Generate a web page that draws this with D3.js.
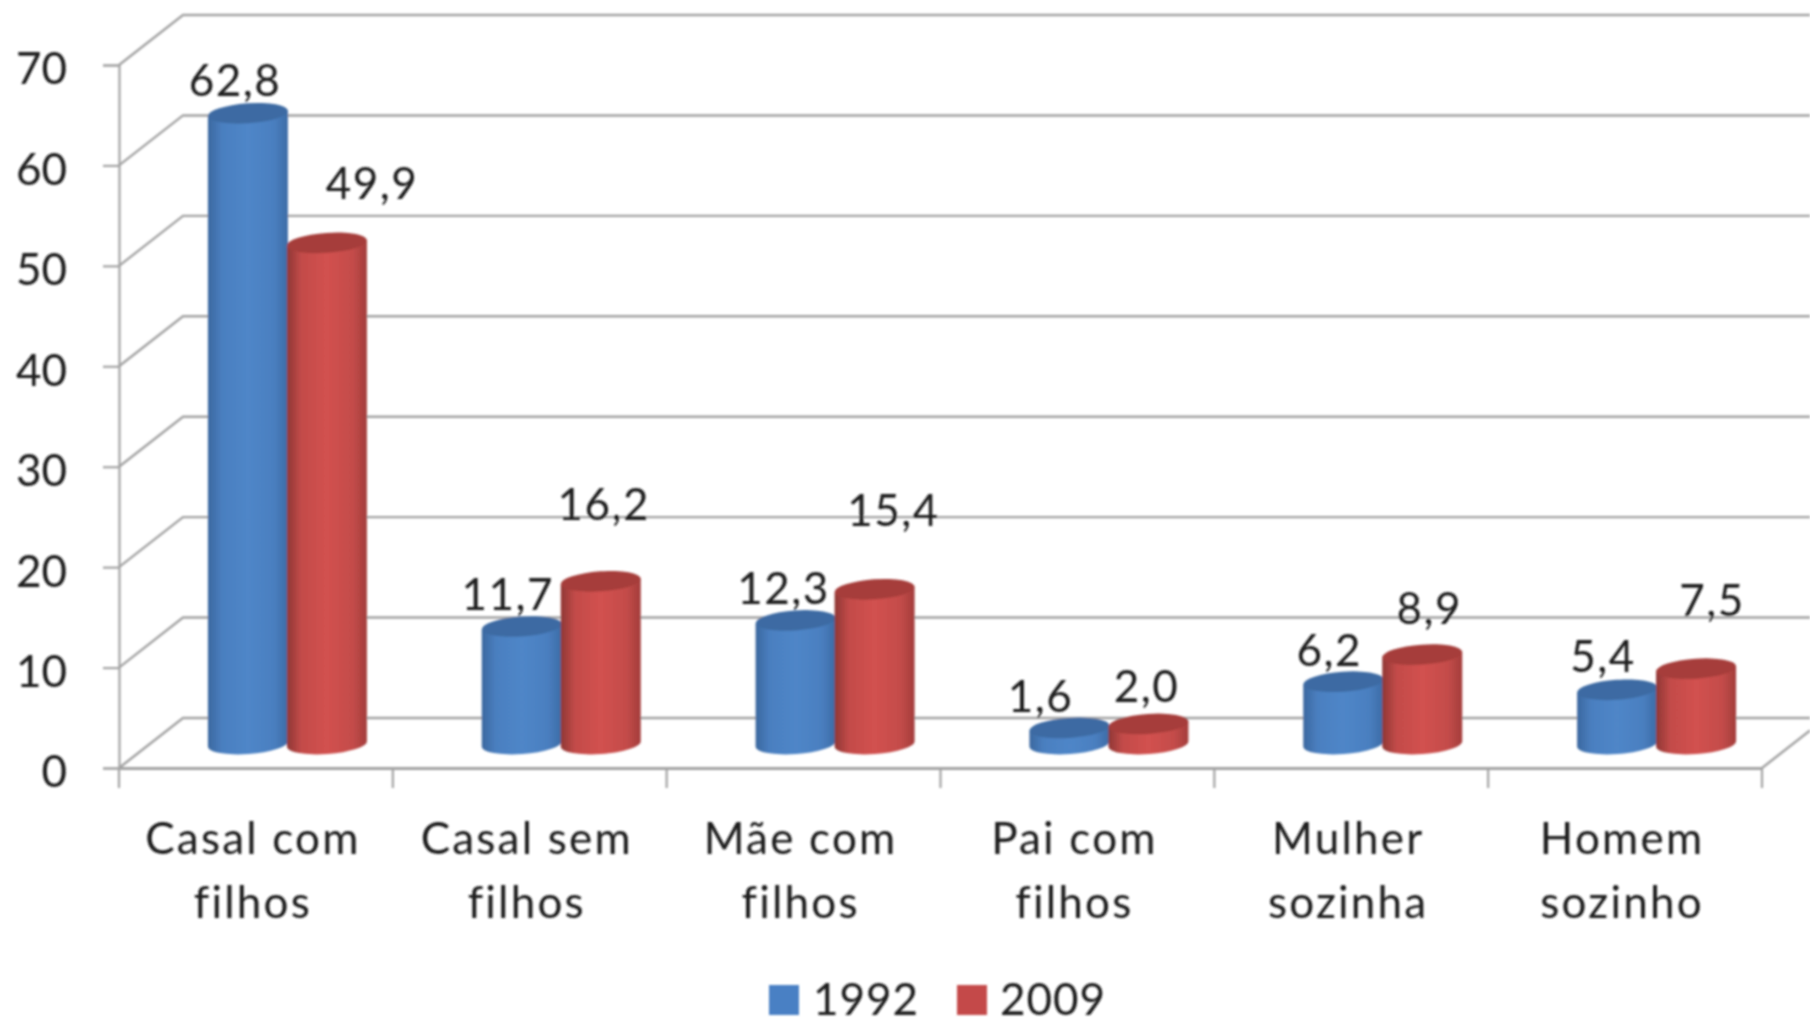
<!DOCTYPE html>
<html><head><meta charset="utf-8">
<style>html,body{margin:0;padding:0;background:#fff}text{font-family:Lato,"Open Sans",sans-serif;font-weight:400;fill:#1a1a1a}</style>
<script src="https://cdn.jsdelivr.net/npm/d3@7"></script></head>
<body><svg id="c" width="1810" height="1018"></svg>
<script>
const categories=[["Casal com","filhos"],["Casal sem","filhos"],["Mãe com","filhos"],["Pai com","filhos"],["Mulher","sozinha"],["Homem","sozinho"]];
const seriesNames=["1992","2009"];
const values1992=[62.8,11.7,12.3,1.6,6.2,5.4];
const values2009=[49.9,16.2,15.4,2.0,8.9,7.5];
const yTicks=[0,10,20,30,40,50,60,70];
// label nudges relative to each cylinder top (layout only)
const nudge1992=[[-13,-33],[-14,-32],[-12,-32],[-29,-31],[-14,-31],[-14,-33]];
const nudge2009=[[45,-59],[3,-77],[19,-79],[-2,-37],[7,-46],[16,-68]];
const colors=[
 {stops:["#3b689f","#4a7fc0","#4f86c8","#4a7fc0","#3c6ca6"],top:"#3c6aa3",sw:"#4a80c4"},
 {stops:["#8f3735","#c34b49","#d2514f","#c44c4a","#a33d3b"],top:"#a63d3b",sw:"#c44a4a"}];

const svg=d3.select("#c");
const defs=svg.append("defs");
defs.append("filter").attr("id","soft").attr("x","-5%").attr("y","-5%").attr("width","110%").attr("height","110%")
  .append("feGaussianBlur").attr("stdDeviation",0.8);
colors.forEach((c,i)=>{
  const g=defs.append("linearGradient").attr("id","cyl"+i);
  [0,.18,.5,.82,1].forEach((o,k)=>g.append("stop").attr("offset",o).attr("stop-color",c.stops[k]));
});
const root=svg.append("g").attr("filter","url(#soft)");

const x=d3.scaleBand().domain(d3.range(categories.length)).range([119,1762]);
const y=d3.scaleLinear().domain([0,70]).range([768,65]);
const depthX=64,depthY=50,rightEdge=1810;
const grid="#a3a3a3";

const gridG=root.append("g").attr("fill","none").attr("stroke",grid);
yTicks.forEach(t=>{
  const yf=y(t),yb=yf-depthY;
  gridG.append("path").attr("stroke-width",2.4).attr("d",d3.line()([[x.range()[0],yf],[x.range()[0]+depthX,yb],[rightEdge,yb]]));
});
gridG.append("path").attr("stroke-width",2.4).attr("d",d3.line()([[x.range()[1],y(0)],[rightEdge,y(0)-depthY*(rightEdge-x.range()[1])/depthX]]));

const yAxis=d3.axisLeft(y).tickValues(yTicks).tickSize(16).tickFormat(d3.format("d"));
const ya=root.append("g").attr("transform",`translate(${x.range()[0]},0)`).call(yAxis);
ya.selectAll("path,line").attr("stroke",grid).attr("stroke-width",2.2);
ya.selectAll("text").attr("x",-52).attr("text-anchor","end").attr("dy","0.43em").style("font-size","44px").style("font-family","Lato").style("font-weight",400);

const xAxis=d3.axisBottom(x).tickSize(0).tickFormat("");
const xa=root.append("g").attr("transform",`translate(0,${y(0)})`).call(xAxis);
xa.select("path").attr("stroke",grid).attr("stroke-width",2.8);
xa.selectAll(".tick").remove();
const edges=d3.range(categories.length+1).map(i=>x.range()[0]+i*x.step());
xa.selectAll("line.t").data(edges).join("line").attr("class","t").attr("x1",d=>d).attr("x2",d=>d).attr("y1",0).attr("y2",20).attr("stroke",grid).attr("stroke-width",2.2);

// cylinders
const rx=40,ry=10,tilt=-4,baseOffset=24,offsets=[-8,71];
const yCyl=v=>y(v)-baseOffset;
[values1992,values2009].forEach((vals,s)=>{
  const g=root.append("g");
  vals.forEach((v,i)=>{
    const cx=x(i)+x.bandwidth()/2+offsets[s],yt=yCyl(v),yb=yCyl(0);
    const dy=rx*Math.sin(tilt*Math.PI/180);
    g.append("path").attr("fill",`url(#cyl${s})`)
     .attr("d",`M${cx-rx},${yt-dy} L${cx-rx},${yb-dy} A${rx},${ry} ${tilt} 0 0 ${cx+rx},${yb+dy} L${cx+rx},${yt+dy} Z`);
    g.append("ellipse").attr("cx",cx).attr("cy",yt).attr("rx",rx).attr("ry",ry).attr("transform",`rotate(${tilt} ${cx} ${yt})`).attr("fill",colors[s].top);
  });
});
// data labels
const fmt=v=>d3.format(".1f")(v).replace(".",",");
[[values1992,nudge1992],[values2009,nudge2009]].forEach(([vals,nd],s)=>{
  vals.forEach((v,i)=>{
    root.append("text").attr("x",x(i)+x.bandwidth()/2+offsets[s]+nd[i][0]).attr("y",yCyl(v)+nd[i][1]).attr("text-anchor","middle").attr("dy","0.35em").style("font-size","44px").style("letter-spacing","1.5px").text(fmt(v));
  });
});
// category labels
categories.forEach((c,i)=>{
  c.forEach((l,j)=>root.append("text").attr("x",x(i)+x.bandwidth()/2-3).attr("y",839+j*64).attr("text-anchor","middle").attr("dy","0.35em").style("font-size","44px").style("letter-spacing","2.2px").text(l));
});
// legend
const lx=[769,957],ltx=[813,1000];
seriesNames.forEach((n,i)=>{
  root.append("rect").attr("x",lx[i]).attr("y",985).attr("width",30).attr("height",30).attr("fill",colors[i].sw);
  root.append("text").attr("x",ltx[i]).attr("y",1000).attr("dy","0.35em").style("font-size","44px").style("letter-spacing","1px").text(n);
});
</script></body></html>
